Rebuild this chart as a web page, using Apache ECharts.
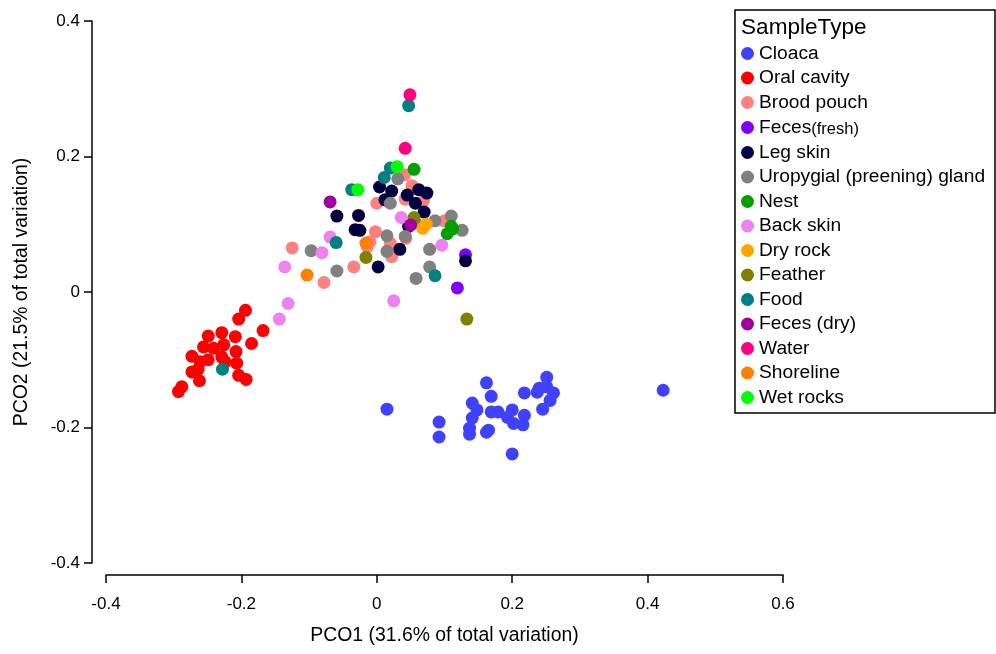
<!DOCTYPE html>
<html>
<head>
<meta charset="utf-8">
<script src="https://cdn.jsdelivr.net/npm/echarts@6/dist/echarts.min.js"></script>
<style>html,body{margin:0;padding:0;background:#fff}#chart{width:996px;height:654px}</style>
</head>
<body>
<div id="chart"></div>
<script>
// ---- Data (PCO1, PCO2) ----
const categories = ["Cloaca","Oral cavity","Brood pouch","Feces(fresh)","Leg skin","Uropygial (preening) gland","Nest","Back skin","Dry rock","Feather","Food","Feces (dry)","Water","Shoreline","Wet rocks"];
const colors = ["#4040FF","#FF0000","#FF8080","#8000FF","#000040","#808080","#00A000","#EE82EE","#FFA500","#808000","#008080","#A000A0","#FF0080","#FF8000","#00FF00"];

const cloaca = [[0.015,-0.173],[0.092,-0.192],[0.092,-0.214],[0.162,-0.134],[0.169,-0.154],[0.141,-0.164],[0.148,-0.174],[0.141,-0.186],[0.137,-0.201],[0.137,-0.210],[0.165,-0.204],[0.162,-0.207],[0.169,-0.177],[0.179,-0.177],[0.193,-0.185],[0.200,-0.174],[0.202,-0.194],[0.216,-0.196],[0.218,-0.182],[0.218,-0.149],[0.237,-0.148],[0.240,-0.142],[0.251,-0.126],[0.251,-0.140],[0.261,-0.149],[0.256,-0.160],[0.245,-0.173],[0.200,-0.239],[0.423,-0.145]];
const oralCavity = [[-0.194,-0.027],[-0.204,-0.040],[-0.168,-0.057],[-0.185,-0.076],[-0.249,-0.065],[-0.229,-0.060],[-0.209,-0.066],[-0.256,-0.081],[-0.241,-0.083],[-0.226,-0.078],[-0.208,-0.088],[-0.273,-0.095],[-0.261,-0.103],[-0.249,-0.100],[-0.229,-0.096],[-0.224,-0.103],[-0.207,-0.105],[-0.273,-0.118],[-0.264,-0.114],[-0.262,-0.131],[-0.204,-0.123],[-0.193,-0.129],[-0.288,-0.140],[-0.293,-0.147]];
const broodPouch = [[0.041,0.173],[0.052,0.157],[0.069,0.135],[0.042,0.137],[0.000,0.131],[0.100,0.105],[-0.002,0.089],[-0.010,0.074],[-0.014,0.067],[0.020,0.072],[0.022,0.052],[-0.125,0.065],[-0.034,0.037],[-0.078,0.014],[0.043,0.079]];
const fecesFresh = [[0.131,0.055],[0.119,0.006]];
const legSkin = [[0.004,0.155],[0.022,0.149],[0.062,0.151],[0.074,0.146],[0.045,0.143],[0.057,0.131],[0.012,0.136],[0.070,0.118],[-0.059,0.112],[-0.027,0.113],[-0.032,0.092],[-0.025,0.091],[0.034,0.063],[0.002,0.037],[0.131,0.046],[0.047,0.097]];
const uropygial = [[0.031,0.167],[0.020,0.131],[0.057,0.102],[0.086,0.105],[0.110,0.112],[0.126,0.091],[0.015,0.083],[0.042,0.082],[0.015,0.060],[0.078,0.063],[0.078,0.037],[0.058,0.020],[-0.097,0.061],[-0.059,0.031]];
const nest = [[0.055,0.181],[0.110,0.097],[0.104,0.086],[0.112,0.093]];
const backSkin = [[0.036,0.110],[-0.069,0.081],[-0.081,0.058],[0.096,0.069],[-0.136,0.037],[-0.131,-0.017],[-0.144,-0.040],[0.025,-0.013]];
const dryRock = [[0.068,0.094],[0.073,0.100]];
const feather = [[0.055,0.110],[-0.016,0.051],[0.133,-0.040]];
const food = [[0.047,0.275],[0.020,0.183],[0.011,0.169],[-0.037,0.151],[-0.060,0.073],[0.086,0.024],[-0.228,-0.114]];
const fecesDry = [[-0.069,0.133],[0.050,0.099]];
const water = [[0.049,0.291],[0.042,0.212]];
const shoreline = [[-0.016,0.072],[-0.103,0.025]];
const wetRocks = [[0.030,0.185],[-0.028,0.151]];

const seriesData = [cloaca, oralCavity, broodPouch, fecesFresh, legSkin, uropygial, nest, backSkin, dryRock, feather, food, fecesDry, water, shoreline, wetRocks];

const xRange = [-0.4, 0.6];
const yRange = [-0.4, 0.4];
const tickStep = 0.2;
const xName = "PCO1 (31.6% of total variation)";
const yName = "PCO2 (21.5% of total variation)";
const legendTitle = "SampleType";

const FONT = '"Liberation Sans", Arial, Helvetica, sans-serif';
const chart = echarts.init(document.getElementById('chart'), null, {renderer: 'canvas'});

const option = {
  animation: false,
  backgroundColor: '#ffffff',
  grid: {left: 106, right: 213, top: 21, bottom: 91, containLabel: false},
  xAxis: {
    type: 'value', min: xRange[0], max: xRange[1], interval: tickStep,
    position: 'bottom', offset: 12,
    name: xName, nameLocation: 'middle', nameGap: 51,
    nameTextStyle: {fontFamily: FONT, fontSize: 19.4, color: '#000'},
    axisLine: {show: true, onZero: false, lineStyle: {color: '#000', width: 1.5}},
    axisTick: {show: true, inside: false, length: 8, lineStyle: {color: '#000', width: 1.5}},
    axisLabel: {fontFamily: FONT, fontSize: 17, color: '#000', margin: 21},
    splitLine: {show: false}
  },
  yAxis: {
    type: 'value', min: yRange[0], max: yRange[1], interval: tickStep,
    position: 'left', offset: 14,
    name: yName, nameLocation: 'middle', nameGap: 61,
    nameTextStyle: {fontFamily: FONT, fontSize: 19.4, color: '#000'},
    axisLine: {show: true, onZero: false, lineStyle: {color: '#000', width: 1.5}},
    axisTick: {show: true, inside: false, length: 8, lineStyle: {color: '#000', width: 1.5}},
    axisLabel: {fontFamily: FONT, fontSize: 17, color: '#000', margin: 12},
    splitLine: {show: false}
  },
  legend: {
    orient: 'vertical', left: 741, top: 43.5, padding: 0,
    icon: 'circle', itemWidth: 13, itemHeight: 13, itemGap: 4.5, itemTextGap: 7,
    data: categories,
    formatter: function (n) { return n === 'Feces(fresh)' ? 'Feces{s|(fresh)}' : n; },
    textStyle: {fontFamily: FONT, fontSize: 19.2, color: '#000', lineHeight: 20,
      rich: {s: {fontFamily: FONT, fontSize: 16.5, color: '#000', lineHeight: 20, padding: [4, 0, 0, 0]}}},
    selectedMode: false
  },
  graphic: [
    {type: 'rect', shape: {x: 735, y: 10, width: 260, height: 403}, style: {fill: 'none', stroke: '#000', lineWidth: 1.5}, z: 100},
    {type: 'text', x: 741, y: 16, style: {text: legendTitle, font: '22.6px "Liberation Sans", Arial, sans-serif', fill: '#000', textVerticalAlign: 'top'}, z: 100}
  ],
  series: categories.map(function (name, i) {
    return {
      name: name, type: 'scatter', data: seriesData[i],
      symbol: 'circle', symbolSize: 13,
      itemStyle: {color: colors[i], opacity: 1},
      emphasis: {disabled: true}
    };
  })
};
chart.setOption(option);
</script>
</body>
</html>
